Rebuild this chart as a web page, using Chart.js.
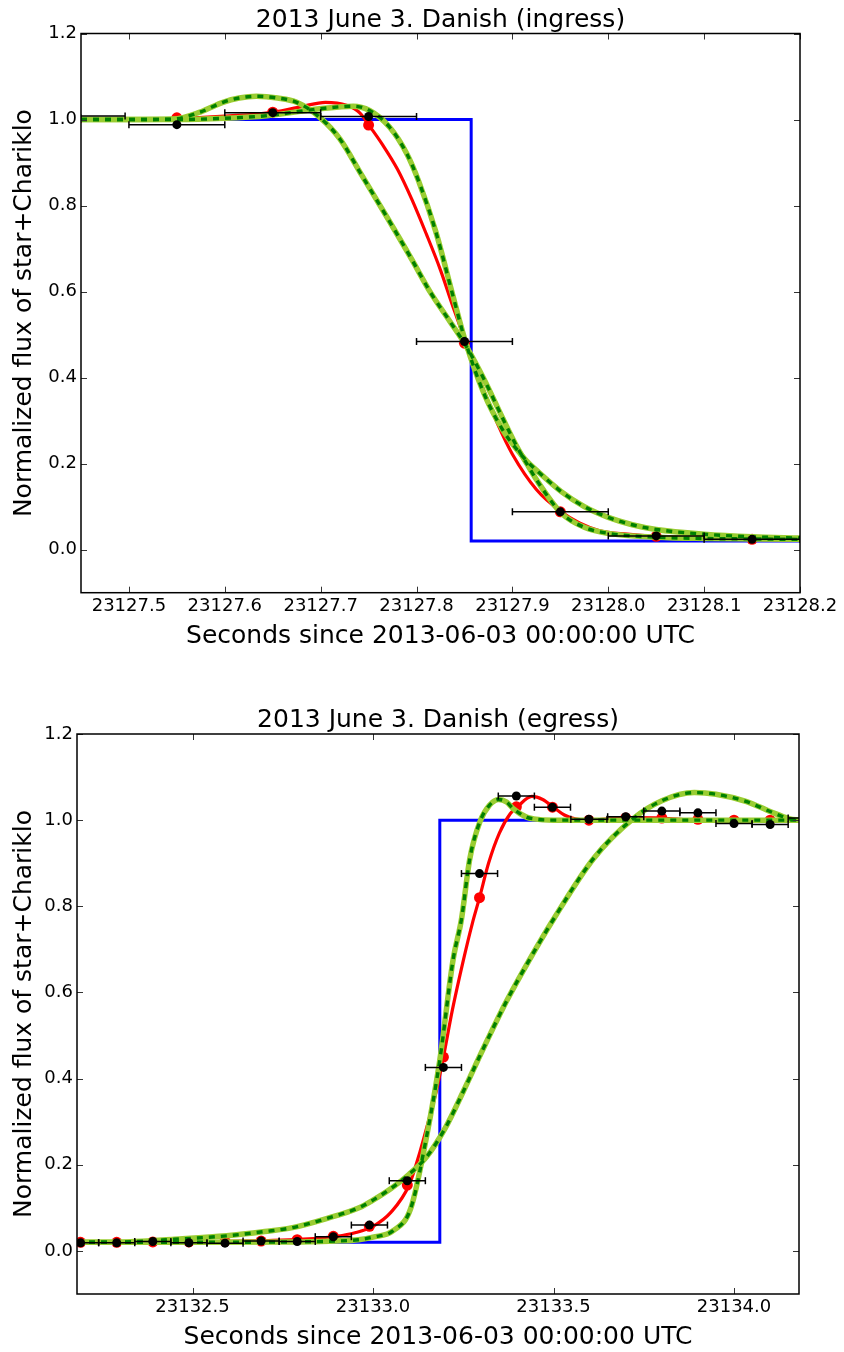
<!DOCTYPE html>
<html><head><meta charset="utf-8">
<script src="https://cdn.jsdelivr.net/npm/chart.js@4.4.0/dist/chart.umd.min.js"></script>
<style>
html,body{margin:0;padding:0;background:#fff;}
#wrap{position:relative;width:844px;height:1352px;background:#fff;}
canvas{position:absolute;left:0;}
</style></head><body>
<div id="wrap">
<canvas id="c1" width="844" height="676" style="top:0"></canvas>
<canvas id="c2" width="844" height="676" style="top:676px"></canvas>
</div>
<script>
// ---------- shared text / ticks ----------
const yLabel = 'Normalized flux of star+Chariklo';
const xLabel = 'Seconds since 2013-06-03 00:00:00 UTC';
const yTicks = [0.0, 0.2, 0.4, 0.6, 0.8, 1.0, 1.2];

// ---------- ingress ----------
const ingressTitle = '2013 June 3. Danish (ingress)';
const ingressXTicks = [23127.5, 23127.6, 23127.7, 23127.8, 23127.9, 23128.0, 23128.1, 23128.2];
const ingressObsX = [23127.446, 23127.55, 23127.65, 23127.75, 23127.85, 23127.95, 23128.05, 23128.15];
const ingressObsY = [1.008, 0.988, 1.016, 1.007, 0.484, 0.088, 0.032, 0.024];
const ingressObsErr = [0.05, 0.05, 0.05, 0.05, 0.05, 0.05, 0.05, 0.05];
const ingressModelPtY = [1.0, 1.004, 1.017, 0.987, 0.48, 0.088, 0.031, 0.024];
const ingressStepX = [23127.45, 23127.857, 23127.857, 23128.2];
const ingressStepY = [1.0, 1.0, 0.02, 0.02];
const ingressRedX = [23127.45, 23127.5, 23127.55, 23127.6, 23127.65, 23127.68, 23127.705, 23127.727, 23127.741, 23127.75, 23127.765, 23127.78, 23127.795, 23127.81, 23127.825, 23127.838, 23127.851, 23127.869, 23127.885, 23127.9, 23127.925, 23127.951, 23127.97, 23127.991, 23128.02, 23128.05, 23128.1, 23128.15, 23128.2];
const ingressRedY = [1.0, 1.0, 1.002, 1.008, 1.017, 1.03, 1.04, 1.033, 1.015, 0.988, 0.94, 0.885, 0.815, 0.735, 0.65, 0.565, 0.484, 0.377, 0.29, 0.222, 0.14, 0.088, 0.062, 0.044, 0.036, 0.031, 0.027, 0.024, 0.022];
const ingressGreenAX = [23127.45, 23127.5, 23127.546, 23127.575, 23127.598, 23127.615, 23127.633, 23127.655, 23127.675, 23127.699, 23127.72, 23127.743, 23127.77, 23127.795, 23127.814, 23127.835, 23127.851, 23127.87, 23127.89, 23127.905, 23127.915, 23127.925, 23127.951, 23127.975, 23128.0, 23128.05, 23128.1, 23128.15, 23128.2];
const ingressGreenAY = [1.0, 1.0, 1.001, 1.018, 1.04, 1.05, 1.054, 1.05, 1.04, 1.005, 0.955, 0.87, 0.77, 0.675, 0.6, 0.53, 0.476, 0.398, 0.305, 0.238, 0.2, 0.163, 0.085, 0.052, 0.038, 0.029, 0.026, 0.025, 0.024];
const ingressGreenBX = [23127.45, 23127.55, 23127.6, 23127.644, 23127.699, 23127.734, 23127.751, 23127.772, 23127.79, 23127.802, 23127.82, 23127.838, 23127.851, 23127.87, 23127.89, 23127.905, 23127.915, 23127.925, 23127.951, 23127.975, 23128.0, 23128.025, 23128.05, 23128.1, 23128.15, 23128.2];
const ingressGreenBY = [1.0, 1.0, 1.003, 1.009, 1.025, 1.031, 1.021, 0.982, 0.92, 0.858, 0.74, 0.59, 0.484, 0.365, 0.278, 0.232, 0.206, 0.185, 0.135, 0.1, 0.075, 0.058, 0.047, 0.036, 0.03, 0.027];

// ---------- egress ----------
const egressTitle = '2013 June 3. Danish (egress)';
const egressXTicks = [23132.5, 23133.0, 23133.5, 23134.0];
const egressObsX = [23132.19, 23132.29, 23132.39, 23132.49, 23132.59, 23132.69, 23132.79, 23132.89, 23132.99, 23133.095, 23133.195, 23133.295, 23133.397, 23133.497, 23133.598, 23133.7, 23133.8, 23133.9, 23134.0, 23134.1, 23134.2];
const egressObsY = [0.019, 0.019, 0.022, 0.019, 0.018, 0.023, 0.022, 0.033, 0.06, 0.163, 0.426, 0.876, 1.056, 1.03, 1.002, 1.008, 1.021, 1.017, 0.992, 0.99, 1.005];
const egressObsErr = [0.05, 0.05, 0.05, 0.05, 0.05, 0.05, 0.05, 0.05, 0.05, 0.05, 0.05, 0.05, 0.05, 0.05, 0.05, 0.05, 0.05, 0.05, 0.05, 0.05, 0.05];
const egressModelPtY = [0.02, 0.02, 0.021, 0.021, 0.022, 0.023, 0.026, 0.034, 0.057, 0.153, 0.45, 0.82, 1.031, 1.03, 1.0, 1.005, 1.005, 1.002, 1.0, 1.0, 1.0];
const egressStepX = [23132.18, 23133.185, 23133.185, 23134.18];
const egressStepY = [0.02, 0.02, 1.0, 1.0];
const egressRedX = [23132.18, 23132.3, 23132.5, 23132.6, 23132.7, 23132.8, 23132.9, 23132.95, 23133.0, 23133.05, 23133.1, 23133.13, 23133.15, 23133.175, 23133.195, 23133.22, 23133.25, 23133.275, 23133.295, 23133.32, 23133.35, 23133.38, 23133.4, 23133.44, 23133.47, 23133.5, 23133.53, 23133.56, 23133.6, 23133.7, 23133.8, 23133.9, 23134.0, 23134.18];
const egressRedY = [0.02, 0.02, 0.021, 0.022, 0.024, 0.027, 0.034, 0.042, 0.057, 0.09, 0.153, 0.23, 0.29, 0.37, 0.45, 0.56, 0.674, 0.76, 0.82, 0.9, 0.97, 1.015, 1.031, 1.055, 1.048, 1.03, 1.012, 1.003, 1.0, 1.006, 1.005, 1.0, 1.0, 1.0];
const egressGreenCX = [23132.18, 23132.5, 23132.8, 23132.9, 23132.96, 23133.0, 23133.056, 23133.105, 23133.148, 23133.185, 23133.222, 23133.245, 23133.268, 23133.296, 23133.323, 23133.348, 23133.37, 23133.388, 23133.425, 23133.445, 23133.5, 23133.6, 23133.8, 23134.0, 23134.18];
const egressGreenCY = [0.02, 0.02, 0.021, 0.023, 0.026, 0.032, 0.047, 0.1, 0.264, 0.443, 0.677, 0.77, 0.91, 0.996, 1.035, 1.048, 1.042, 1.027, 1.007, 1.003, 1.0, 1.0, 1.0, 1.0, 1.0];
const egressGreenDX = [23132.18, 23132.32, 23132.45, 23132.594, 23132.7, 23132.777, 23132.871, 23132.963, 23133.0, 23133.05, 23133.1, 23133.15, 23133.2, 23133.25, 23133.3, 23133.37, 23133.434, 23133.5, 23133.61, 23133.72, 23133.8, 23133.89, 23133.95, 23134.035, 23134.1, 23134.155, 23134.18];
const egressGreenDY = [0.02, 0.021, 0.027, 0.035, 0.045, 0.054, 0.075, 0.101, 0.118, 0.145, 0.178, 0.22, 0.285, 0.37, 0.46, 0.58, 0.677, 0.77, 0.91, 1.003, 1.045, 1.064, 1.06, 1.043, 1.02, 1.003, 1.0];

// ---------- helpers ----------
const FONT = "'DejaVu Sans', sans-serif";
const pts = (xs, ys) => xs.map((x, i) => ({x: x, y: ys[i]}));
function errPts(xs, ys, es) {
  const out = [];
  xs.forEach((x, i) => {
    out.push({x: x - es[i], y: ys[i]});
    out.push({x: x + es[i], y: ys[i]});
    out.push({x: x, y: null});
  });
  return out;
}
function curve(data, color, width, order, dash) {
  return {data: data, showLine: true, borderColor: color, backgroundColor: color, borderWidth: width,
    borderDash: dash || [], borderCapStyle: 'butt', pointRadius: 0, pointHoverRadius: 0,
    cubicInterpolationMode: 'monotone', order: order};
}

const framePlugin = {
  id: 'mplFrame',
  afterDatasetsDraw(chart, args, opts) {
    const {ctx, chartArea: a, scales} = chart;
    ctx.save();
    ctx.strokeStyle = '#333';
    ctx.lineWidth = 1;
    ctx.beginPath();
    scales.x.ticks.forEach(t => {
      const px = Math.round(scales.x.getPixelForValue(t.value)) + 0.5;
      ctx.moveTo(px, a.bottom); ctx.lineTo(px, a.bottom - 6);
      ctx.moveTo(px, a.top); ctx.lineTo(px, a.top + 6);
    });
    scales.y.ticks.forEach(t => {
      const py = Math.round(scales.y.getPixelForValue(t.value)) + 0.5;
      ctx.moveTo(a.left, py); ctx.lineTo(a.left + 6, py);
      ctx.moveTo(a.right, py); ctx.lineTo(a.right - 6, py);
    });
    ctx.stroke();
    ctx.strokeStyle = '#000';
    ctx.lineWidth = 1.5;
    ctx.strokeRect(a.left, a.top, a.right - a.left, a.bottom - a.top);
    ctx.font = '25px ' + FONT;
    ctx.fillStyle = '#000';
    ctx.textAlign = 'center';
    ctx.textBaseline = 'alphabetic';
    ctx.fillText(opts.text, (a.left + a.right) / 2, a.top - opts.gap);
    ctx.restore();
  }
};

function makeChart(id, c) {
  const datasets = [
    {data: pts(c.obsX, c.obsY), pointRadius: 4.5, pointHoverRadius: 4.5, backgroundColor: '#000', borderWidth: 0, showLine: false, order: 0},
    {data: errPts(c.obsX, c.obsY, c.obsErr), showLine: true, spanGaps: false, borderColor: '#000', borderWidth: 1.5,
      pointStyle: 'line', rotation: 90, pointRadius: 3.5, pointHoverRadius: 3.5, pointBorderColor: '#000', pointBorderWidth: 1.5, order: 1},
  ];
  c.greens.forEach((g, i) => {
    datasets.push(curve(g, '#008000', 3.4, 2, [6, 6]));
    datasets.push(curve(g, '#9acd32', 5.5, 3));
  });
  datasets.push({data: pts(c.obsX, c.modelY), pointRadius: 5.5, pointHoverRadius: 5.5, backgroundColor: '#ff0000', borderWidth: 0, showLine: false, order: 4});
  datasets.push(curve(c.red, '#ff0000', 3.2, 5));
  datasets.push({data: c.step, showLine: true, borderColor: '#0000ff', borderWidth: 3, pointRadius: 0, tension: 0, order: 6});

  return new Chart(document.getElementById(id), {
    type: 'scatter',
    data: {datasets: datasets},
    plugins: [framePlugin],
    options: {
      responsive: false, animation: false, devicePixelRatio: 1,
      events: [],
      layout: {padding: {top: c.area.top, right: 844 - c.area.right, bottom: 0, left: 0}},
      plugins: {legend: {display: false}, tooltip: {enabled: false}, title: {display: false},
        mplFrame: {text: c.title, gap: c.titleGap}},
      scales: {
        x: {type: 'linear', min: c.xmin, max: c.xmax,
          afterFit: s => { s.height = 676 - c.area.bottom; },
          afterBuildTicks: s => { s.ticks = c.xTicks.map(v => ({value: v})); },
          grid: {display: false, drawTicks: false},
          border: {display: false},
          ticks: {autoSkip: false, maxRotation: 0, padding: 3, color: '#000', font: {family: FONT, size: 18},
            callback: v => v.toFixed(1)},
          title: {display: true, text: xLabel, color: '#000', font: {family: FONT, size: 25}, padding: {top: 0, bottom: c.xTitlePad}}
        },
        y: {type: 'linear', min: -0.1, max: 1.2,
          afterFit: s => { s.width = c.area.left; },
          afterBuildTicks: s => { s.ticks = yTicks.map(v => ({value: v})); },
          grid: {display: false, drawTicks: false},
          border: {display: false},
          ticks: {padding: 4, color: '#000', font: {family: FONT, size: 18}, callback: v => v.toFixed(1)},
          title: {display: true, text: yLabel, color: '#000', font: {family: FONT, size: 25}, padding: {top: c.yTitlePad, bottom: 0}}
        }
      }
    }
  });
}

makeChart('c1', {
  title: ingressTitle, titleGap: 7, xmin: 23127.45, xmax: 23128.2, xTicks: ingressXTicks,
  area: {left: 81, right: 800, top: 33.5, bottom: 592.7}, xTitlePad: 25, yTitlePad: 9,
  obsX: ingressObsX, obsY: ingressObsY, obsErr: ingressObsErr, modelY: ingressModelPtY,
  red: pts(ingressRedX, ingressRedY),
  greens: [pts(ingressGreenAX, ingressGreenAY), pts(ingressGreenBX, ingressGreenBY)],
  step: pts(ingressStepX, ingressStepY)
});
makeChart('c2', {
  title: egressTitle, titleGap: 7, xmin: 23132.18, xmax: 23134.18, xTicks: egressXTicks,
  area: {left: 77, right: 799, top: 58, bottom: 618}, xTitlePad: 0, yTitlePad: 9,
  obsX: egressObsX, obsY: egressObsY, obsErr: egressObsErr, modelY: egressModelPtY,
  red: pts(egressRedX, egressRedY),
  greens: [pts(egressGreenCX, egressGreenCY), pts(egressGreenDX, egressGreenDY)],
  step: pts(egressStepX, egressStepY)
});
</script>
</body></html>
